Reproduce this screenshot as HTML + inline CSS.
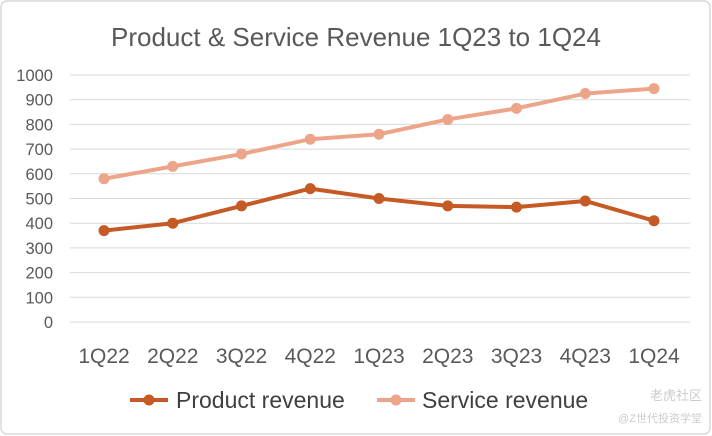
<!DOCTYPE html>
<html><head><meta charset="utf-8"><style>
body{margin:0;background:#fff;}
svg{display:block;font-family:"Liberation Sans","Noto Sans CJK SC",sans-serif;}
</style></head><body>
<svg width="712" height="436" viewBox="0 0 712 436">
<rect x="1" y="1" width="709" height="433" rx="6" fill="#fff" stroke="#d9d9d9" stroke-width="1.5"/>
<text x="356" y="46" text-anchor="middle" font-size="26" fill="#595959">Product &amp; Service Revenue 1Q23 to 1Q24</text>
<g id="grid"></g><g id="series"></g>
<g>
<g><line x1="130" y1="400" x2="168" y2="400" stroke="#c65a24" stroke-width="4"/><circle cx="149" cy="400" r="5.5" fill="#c65a24"/><text x="176" y="408" font-size="23" fill="#404040">Product revenue</text></g>
<g><line x1="377" y1="400" x2="415" y2="400" stroke="#eda58a" stroke-width="4"/><circle cx="396" cy="400" r="5.5" fill="#eda58a"/><text x="422" y="408" font-size="23" fill="#404040">Service revenue</text></g>
</g>
<text x="702" y="400" text-anchor="end" font-size="13" fill="#ccc">老虎社区</text>
<text x="702" y="422" text-anchor="end" font-size="11" fill="#ccc">@Z世代投资学堂</text>
</svg>
<script>
const categories=["1Q22","2Q22","3Q22","4Q22","1Q23","2Q23","3Q23","4Q23","1Q24"];
const productRevenue=[370,400,470,540,500,470,465,490,410];
const serviceRevenue=[580,630,680,740,760,820,865,925,945];
const yTicks=[0,100,200,300,400,500,600,700,800,900,1000];
const NS="http://www.w3.org/2000/svg";
const y=v=>322-v*0.247;
const x=i=>104+i*68.75;
function mk(t,a,p){const e=document.createElementNS(NS,t);for(const k in a)e.setAttribute(k,a[k]);p.appendChild(e);return e;}
const grid=document.getElementById('grid');
yTicks.forEach(v=>{
 const l=mk('line',{x1:70,x2:690,y1:y(v),y2:y(v),stroke:'#d9d9d9','stroke-width':1},grid);
 
 
 const t=mk('text',{x:53,y:y(v)+6,'text-anchor':'end','font-size':16.5,fill:'#595959'},grid);
 t.textContent=v;
 
 
});
categories.forEach((c,i)=>{
 const t=mk('text',{x:x(i),y:363,'text-anchor':'middle','font-size':21,fill:'#595959'},grid);
 t.textContent=c;
 
 
});
const sg=document.getElementById('series');
[[serviceRevenue,'#eda58a','service-revenue'],[productRevenue,'#c65a24','product-revenue']].forEach(([d,col,n])=>{
 const p=mk('polyline',{points:d.map((v,i)=>x(i)+','+y(v)).join(' '),fill:'none',stroke:col,'stroke-width':4,'stroke-linejoin':'round'},sg);
 
 
 d.forEach((v,i)=>{
  const c=mk('circle',{cx:x(i),cy:y(v),r:5.5,fill:col},sg);
  
  
 });
});
</script>
</body></html>
